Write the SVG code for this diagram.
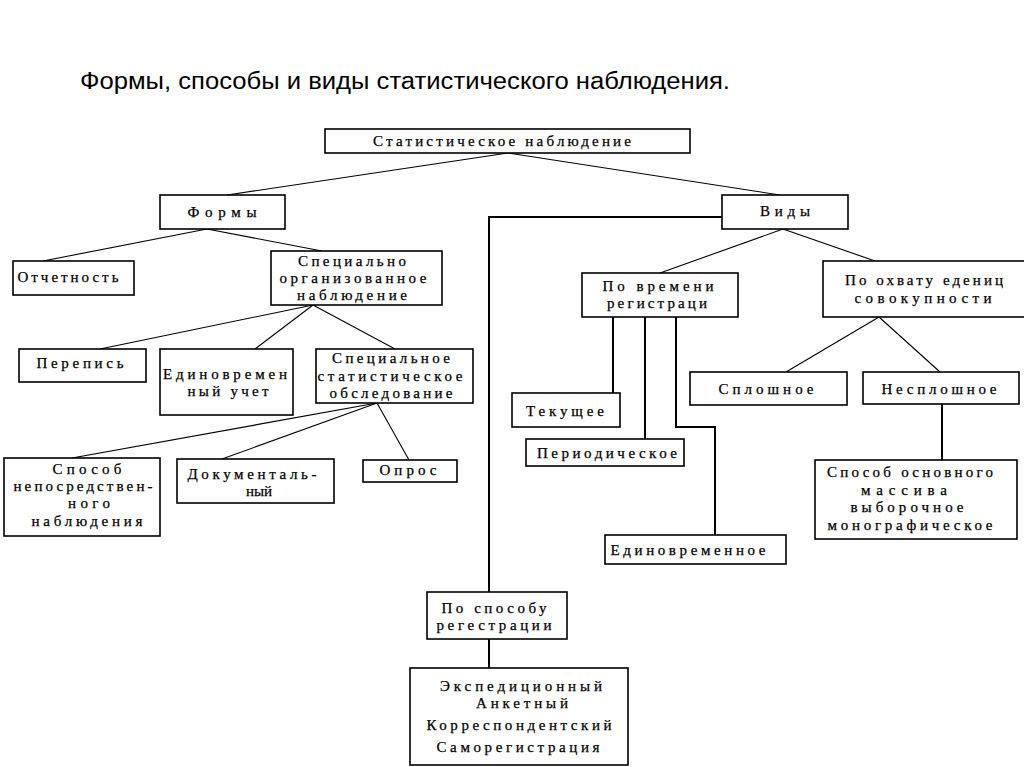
<svg xmlns="http://www.w3.org/2000/svg" width="1024" height="767" viewBox="0 0 1024 767">
<style>
.box{fill:#fff;stroke:#000;stroke-width:1.6}
.t{font-family:"Liberation Serif","Times New Roman",serif;font-size:15px;fill:#000;stroke:#000;stroke-width:0.25;text-anchor:middle}
.thin{stroke:#000;stroke-width:1.1;fill:none}
.thick{stroke:#000;stroke-width:2;fill:none}
.title{font-family:"Liberation Sans",Arial,sans-serif;font-size:23px;fill:#000}
</style>
<rect width="1024" height="767" fill="#fff"/>
<text class="title" x="80" y="89" textLength="650" lengthAdjust="spacingAndGlyphs">Формы, способы и виды статистического наблюдения.</text>
<g id="connectors">
<line class="thin" x1="508" y1="153" x2="227" y2="195"/>
<line class="thin" x1="508" y1="153" x2="780" y2="195"/>
<line class="thin" x1="207" y1="229" x2="43" y2="261"/>
<line class="thin" x1="207" y1="229" x2="322" y2="251"/>
<line class="thin" x1="313" y1="305" x2="100" y2="349"/>
<line class="thin" x1="313" y1="305" x2="255" y2="349"/>
<line class="thin" x1="313" y1="305" x2="395" y2="349"/>
<line class="thin" x1="377" y1="403" x2="72" y2="458"/>
<line class="thin" x1="377" y1="403" x2="222" y2="459"/>
<line class="thin" x1="377" y1="403" x2="409" y2="460"/>
<line class="thin" x1="783" y1="229" x2="660" y2="273"/>
<line class="thin" x1="783" y1="229" x2="875" y2="261"/>
<line class="thin" x1="879" y1="317" x2="786" y2="372"/>
<line class="thin" x1="879" y1="317" x2="940" y2="372"/>
<polyline class="thick" points="722,217 489,217 489,592"/>
<line class="thick" x1="489" y1="639" x2="489" y2="668"/>
<line class="thick" x1="613" y1="317" x2="613" y2="393"/>
<line class="thick" x1="645" y1="317" x2="645" y2="439"/>
<polyline class="thick" points="676,317 676,427 715,427 715,535"/>
<line class="thick" x1="942" y1="404" x2="942" y2="460"/>
</g>
<g id="stat"><rect class="box" x="325" y="129" width="365" height="24"/><text class="t" x="502" y="146" textLength="258" lengthAdjust="spacing">Статистическое наблюдение</text></g>
<g id="formy"><rect class="box" x="160" y="195" width="125" height="34"/><text class="t" x="222" y="217" textLength="69" lengthAdjust="spacing">Формы</text></g>
<g id="vidy"><rect class="box" x="722" y="195" width="126" height="34"/><text class="t" x="785" y="216" textLength="50" lengthAdjust="spacing">Виды</text></g>
<g id="otchetnost"><rect class="box" x="13" y="261" width="121" height="34"/><text class="t" x="68" y="282" textLength="101" lengthAdjust="spacing">Отчетность</text></g>
<g id="specorg"><rect class="box" x="271" y="251" width="171" height="54"/>
<text class="t" x="352" y="266" textLength="108" lengthAdjust="spacing">Специально</text>
<text class="t" x="353" y="283" textLength="147" lengthAdjust="spacing">организованное</text>
<text class="t" x="352" y="300" textLength="110" lengthAdjust="spacing">наблюдение</text></g>
<g id="perepis"><rect class="box" x="19" y="349" width="127" height="33"/><text class="t" x="80" y="368" textLength="87" lengthAdjust="spacing">Перепись</text></g>
<g id="edinovr"><rect class="box" x="160" y="349" width="133" height="66"/>
<text class="t" x="225" y="379" textLength="124" lengthAdjust="spacing">Единовремен</text>
<text class="t" x="228" y="396" textLength="81" lengthAdjust="spacing">ный учет</text></g>
<g id="specstat"><rect class="box" x="316" y="349" width="157" height="54"/>
<text class="t" x="391" y="363" textLength="118" lengthAdjust="spacing">Специальное</text>
<text class="t" x="390" y="381" textLength="145" lengthAdjust="spacing">статистическое</text>
<text class="t" x="391" y="398" textLength="123" lengthAdjust="spacing">обследование</text></g>
<g id="sposob"><rect class="box" x="4" y="458" width="156" height="78"/>
<text class="t" x="87" y="474" textLength="69" lengthAdjust="spacing">Способ</text>
<text class="t" x="83" y="491" textLength="139" lengthAdjust="spacing">непосредствен-</text>
<text class="t" x="89" y="508" textLength="42" lengthAdjust="spacing">ного</text>
<text class="t" x="87" y="526" textLength="111" lengthAdjust="spacing">наблюдения</text></g>
<g id="dokum"><rect class="box" x="177" y="459" width="157" height="44"/>
<text class="t" x="252" y="479" textLength="129" lengthAdjust="spacing">Документаль-</text>
<text class="t" x="259" y="496">ный</text></g>
<g id="opros"><rect class="box" x="363" y="460" width="94" height="22"/><text class="t" x="408" y="475" textLength="57" lengthAdjust="spacing">Опрос</text></g>
<g id="povrem"><rect class="box" x="582" y="273" width="156" height="44"/>
<text class="t" x="658" y="291" textLength="111" lengthAdjust="spacing">По времени</text>
<text class="t" x="657" y="308" textLength="100" lengthAdjust="spacing">регистраци</text></g>
<g id="pookhv"><rect class="box" x="823" y="261" width="210" height="56"/>
<text class="t" x="924" y="285" textLength="158" lengthAdjust="spacing">По охвату едениц</text>
<text class="t" x="923" y="303" textLength="137" lengthAdjust="spacing">совокупности</text></g>
<g id="tekushee"><rect class="box" x="512" y="393" width="108" height="34"/><text class="t" x="565" y="416" textLength="78" lengthAdjust="spacing">Текущее</text></g>
<g id="period"><rect class="box" x="526" y="439" width="158" height="27"/><text class="t" x="607" y="458" textLength="140" lengthAdjust="spacing">Периодическое</text></g>
<g id="edinovremennoe"><rect class="box" x="605" y="535" width="181" height="29"/><text class="t" x="688" y="555" textLength="155" lengthAdjust="spacing">Единовременное</text></g>
<g id="splosh"><rect class="box" x="690" y="372" width="157" height="33"/><text class="t" x="766" y="394" textLength="95" lengthAdjust="spacing">Сплошное</text></g>
<g id="nesplosh"><rect class="box" x="863" y="372" width="156" height="32"/><text class="t" x="939" y="394" textLength="115" lengthAdjust="spacing">Несплошное</text></g>
<g id="osnov"><rect class="box" x="815" y="460" width="202" height="79"/>
<text class="t" x="910" y="477" textLength="166" lengthAdjust="spacing">Способ основного</text>
<text class="t" x="904" y="495" textLength="86" lengthAdjust="spacing">массива</text>
<text class="t" x="907" y="512" textLength="113" lengthAdjust="spacing">выборочное</text>
<text class="t" x="910" y="530" textLength="165" lengthAdjust="spacing">монографическое</text></g>
<g id="posposobu"><rect class="box" x="427" y="592" width="140" height="47"/>
<text class="t" x="494" y="613" textLength="105" lengthAdjust="spacing">По способу</text>
<text class="t" x="494" y="630" textLength="115" lengthAdjust="spacing">регестрации</text></g>
<g id="exped"><rect class="box" x="410" y="668" width="218" height="97"/>
<text class="t" x="521" y="691" textLength="162" lengthAdjust="spacing">Экспедиционный</text>
<text class="t" x="522" y="708" textLength="92" lengthAdjust="spacing">Анкетный</text>
<text class="t" x="519" y="730" textLength="185" lengthAdjust="spacing">Корреспондентский</text>
<text class="t" x="518" y="752" textLength="163" lengthAdjust="spacing">Саморегистрация</text></g>
</svg>
